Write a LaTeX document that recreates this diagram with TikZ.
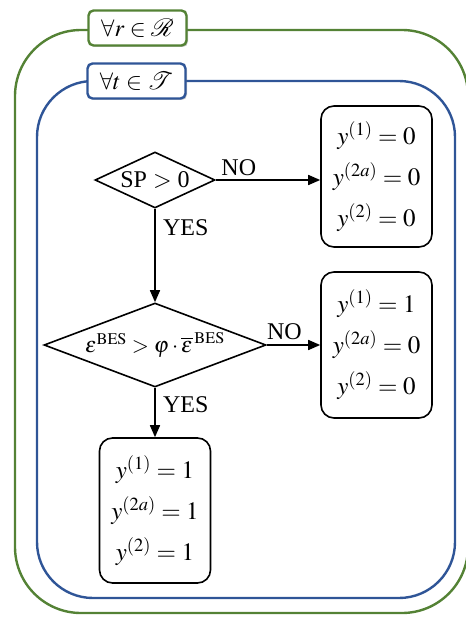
\documentclass[tikz,border=0pt]{standalone}
\usepackage{mathptmx}
\usepackage{mathrsfs}
\usepackage{fontspec}
\setmainfont{Liberation Serif}
\usetikzlibrary{shapes.geometric,arrows.meta,shadows}
\definecolor{grn}{RGB}{84,130,53}
\definecolor{blu}{RGB}{47,85,151}
\begin{document}
\begin{tikzpicture}[x=1pt,y=-1pt,
  txt/.style={font=\fontsize{24}{28}\selectfont},
  dia/.style={draw,line width=1.6pt,shape=diamond,inner sep=0pt,txt},
  outbox/.style={draw,line width=1.6pt,rounded corners=13pt,minimum width=111pt,minimum height=141pt,align=center,inner sep=0pt,font=\fontsize{25}{41}\selectfont},
  tag/.style={draw,line width=2.4pt,rounded corners=5pt,fill=white,minimum width=98pt,minimum height=35pt,inner sep=0pt,txt,drop shadow={shadow xshift=1.5pt,shadow yshift=-1.5pt,opacity=0.4}},
  arr/.style={line width=1.6pt,-{Triangle[length=12pt,width=10pt]}},
  lbl/.style={txt}]
\useasboundingbox (0,0) rectangle (465,617);
% containers
\draw[grn,line width=2.4pt,rounded corners=66pt] (15,30) rectangle (468,613);
\draw[blu,line width=2.4pt,rounded corners=56pt] (37,81) rectangle (455,598);
\node[tag,draw=grn] (tr) at (137.5,28) {$\forall r\in\mathscr{R}$};
\node[tag,draw=blu] (tt) at (136.5,81) {$\forall t\in\mathscr{T}$};
% decisions
\node[dia,minimum width=120pt,minimum height=56pt] (d1) at (155,180) {\makebox[0pt]{SP $>$ 0}};
\node[dia,minimum width=222pt,minimum height=84pt] (d2) at (155,345) {\makebox[0pt]{\raisebox{3pt}{\fontsize{22}{26}\selectfont$\varepsilon^{\mathrm{BES}}>\varphi\cdot\overline{\varepsilon}^{\,\mathrm{BES}}$}}};
% outcome boxes
\node[outbox] (b1) at (376.5,176.5) {$y^{(1)}=0$\\$y^{(2a)}=0$\\$y^{(2)}=0$};
\node[outbox,minimum height=146pt] (b2) at (376.5,345) {$y^{(1)}=1$\\$y^{(2a)}=0$\\$y^{(2)}=0$};
\node[outbox,minimum height=145pt] (b3) at (155,510.5) {$y^{(1)}=1$\\$y^{(2a)}=1$\\$y^{(2)}=1$};
% connectors
\draw[arr] (d1.east) -- (d1.east -| b1.west) node[lbl,pos=0.22,above=0pt] {NO};
\draw[arr] (d1.south) -- (d2.north) node[lbl,pos=0.2,right=4pt] {YES};
\draw[arr] (d2.east) -- (b2.west) node[lbl,pos=0.33,above=1pt] {NO};
\draw[arr] (d2.south) -- (b3.north) node[lbl,pos=0.35,right=4pt] {YES};
\end{tikzpicture}
\end{document}
